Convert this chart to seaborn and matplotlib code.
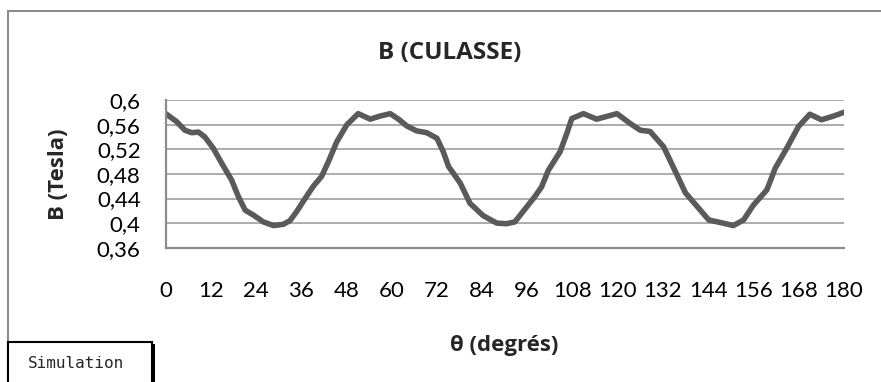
import matplotlib
matplotlib.use("Agg")
import matplotlib.pyplot as plt
from matplotlib.patches import Rectangle
import seaborn as sns
import pandas as pd

# Magnetic flux density in the yoke versus rotor angle
theta_deg = [
    0.0, 2.9, 5.1, 6.9, 8.7, 10.4, 12.6, 14.9, 17.5, 19.3,
    21.1, 23.3, 25.9, 28.6, 31.2, 33.0, 34.8, 37.0, 39.2, 41.4,
    43.2, 45.4, 48.1, 51.1, 54.3, 56.9, 59.6, 61.8, 64.0, 66.6,
    69.3, 72.0, 73.7, 75.1, 78.2, 80.8, 84.3, 87.9, 90.5, 92.7,
    94.9, 98.0, 99.8, 101.6, 104.7, 106.5, 107.8, 110.9, 114.4, 119.8,
    123.3, 126.0, 128.6, 132.2, 135.3, 138.0, 141.1, 144.2, 147.2, 150.7,
    153.4, 156.0, 159.6, 161.8, 164.9, 168.0, 171.0, 174.1, 177.3, 180.0,
]
b_tesla = [
    0.578, 0.565, 0.551, 0.547, 0.548, 0.540, 0.522, 0.497, 0.470, 0.443,
    0.421, 0.413, 0.402, 0.396, 0.398, 0.404, 0.419, 0.440, 0.460, 0.476,
    0.500, 0.532, 0.560, 0.578, 0.569, 0.574, 0.578, 0.569, 0.558, 0.550,
    0.547, 0.538, 0.516, 0.492, 0.465, 0.432, 0.412, 0.400, 0.399, 0.402,
    0.419, 0.443, 0.459, 0.486, 0.516, 0.546, 0.570, 0.578, 0.569, 0.578,
    0.562, 0.551, 0.549, 0.524, 0.484, 0.449, 0.427, 0.405, 0.401, 0.396,
    0.405, 0.429, 0.454, 0.489, 0.522, 0.557, 0.577, 0.568, 0.574, 0.580,
]
x_ticks = list(range(0, 181, 12))
y_ticks = [0.36, 0.40, 0.44, 0.48, 0.52, 0.56, 0.60]
y_tick_labels = ["0,36", "0,4", "0,44", "0,48", "0,52", "0,56", "0,6"]

title = "B (CULASSE)"
x_label = "θ (degrés)"
y_label = "B (Tesla)"
legend_text = "Simulation"

df = pd.DataFrame({"theta": theta_deg, "B": b_tesla})

sns.set_style("white")
plt.rcParams["font.family"] = ["Lato", "DejaVu Sans"]
bold_family = ["Open Sans", "DejaVu Sans"]

W, H = 881, 382
fig = plt.figure(figsize=(W / 100, H / 100), dpi=100)

# chart area frame (top and left edges visible)
fig.patches.append(Rectangle((8 / W, -0.1), 1.2, 1 - 11 / H + 0.1,
                             transform=fig.transFigure, fill=False,
                             edgecolor="#8c8c8c", linewidth=1.5))

ax = fig.add_axes([165.7 / W, 1 - 247.7 / H, (843.7 - 165.7) / W, (247.7 - 100.1) / H])

sns.lineplot(data=df, x="theta", y="B", ax=ax, color="#5a5a5a",
             linewidth=4.0, solid_joinstyle="round", solid_capstyle="round")

ax.set_xlim(0, 180)
ax.set_ylim(0.36, 0.60)
ax.set_xticks(x_ticks)
ax.set_xticklabels([str(v) for v in x_ticks])
ax.set_yticks(y_ticks)
ax.set_yticklabels(y_tick_labels)
ax.set_xlabel("")
ax.set_ylabel("")

ax.grid(axis="y", color="#a6a6a6", linewidth=1.3)
ax.grid(axis="x", visible=False)
ax.set_axisbelow(True)
for side in ("top", "right"):
    ax.spines[side].set_visible(False)
for side in ("left", "bottom"):
    ax.spines[side].set_color("#8c8c8c")
    ax.spines[side].set_linewidth(1.6)

ax.tick_params(axis="both", which="major", direction="out", length=6,
               width=1.6, color="#8c8c8c", labelsize=16, labelcolor="black")
ax.tick_params(axis="y", pad=12)
ax.tick_params(axis="x", pad=18)

fig.text(450 / W, 1 - 53 / H, title, ha="center", va="center",
         fontsize=17.5, fontweight="bold", family=bold_family)
fig.text(504 / W, 1 - 345 / H, x_label, ha="center", va="center",
         fontsize=16, fontweight="bold", family=bold_family)
fig.text(58 / W, 1 - 174 / H, y_label, ha="center", va="center",
         rotation=90, fontsize=16, fontweight="bold", family=bold_family)

# legend-like box in the lower left corner, with a dark shadow on its right edge
fig.patches.append(Rectangle((8 / W, -0.05), (152 - 8) / W, (0.05 + 1 - 342 / H),
                             transform=fig.transFigure, facecolor="white",
                             edgecolor="black", linewidth=1.5))
fig.patches.append(Rectangle((152 / W, -0.05), 3 / W, (0.05 + 1 - 344 / H),
                             transform=fig.transFigure, facecolor="black",
                             edgecolor="none"))
fig.text(76 / W, 1 - 363 / H, legend_text, ha="center", va="center",
         fontsize=11.5, family="DejaVu Sans Mono")

fig.savefig("out.png", dpi=100)
